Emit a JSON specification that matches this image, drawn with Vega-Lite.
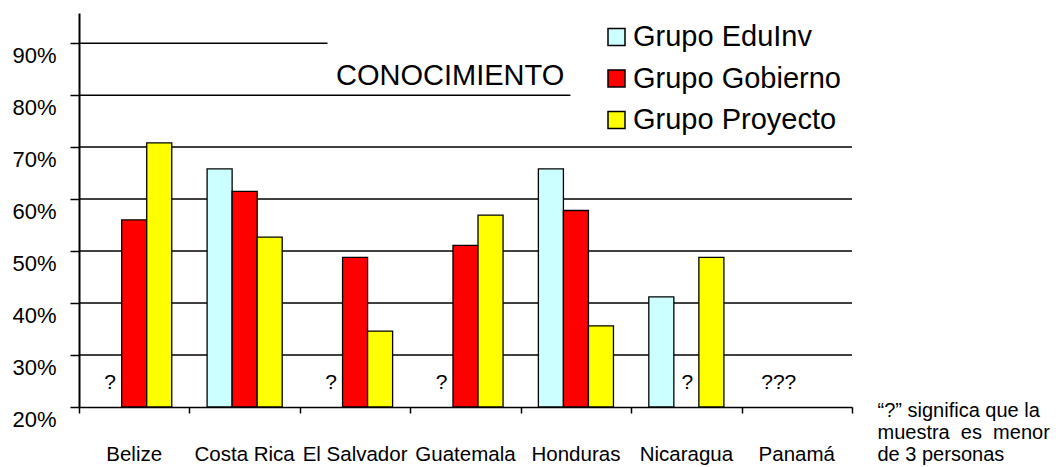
{
  "$schema": "https://vega.github.io/schema/vega-lite/v6.json",
  "width": 773,
  "height": 394,
  "autosize": {"type": "none"},
  "padding": {"left": 79, "top": 13, "right": 211, "bottom": 60},
  "background": "white",
  "config": {
    "view": {"stroke": null},
    "font": "Liberation Sans",
    "axisY": {"grid": false, "tickSize": 9, "tickColor": "black", "tickWidth": 1.5, "domainColor": "black", "domainWidth": 2, "labelFontSize": 22, "labelColor": "black", "labelPadding": 14, "labelOffset": 12, "labelBaseline": "middle"}
  },
  "title": {"text": "CONOCIMIENTO", "orient": "top", "anchor": "start", "frame": "group", "dx": 257, "dy": 101, "offset": 0, "baseline": "alphabetic", "fontSize": 29, "fontWeight": "normal", "color": "black"},
  "datasets": {
    "bars": [
      {"pais": "Belize", "grupo": "Grupo Gobierno", "valor": 56.0},
      {"pais": "Belize", "grupo": "Grupo Proyecto", "valor": 70.8},
      {"pais": "Costa Rica", "grupo": "Grupo EduInv", "valor": 65.8},
      {"pais": "Costa Rica", "grupo": "Grupo Gobierno", "valor": 61.5},
      {"pais": "Costa Rica", "grupo": "Grupo Proyecto", "valor": 52.7},
      {"pais": "El Salvador", "grupo": "Grupo Gobierno", "valor": 48.8},
      {"pais": "El Salvador", "grupo": "Grupo Proyecto", "valor": 34.6},
      {"pais": "Guatemala", "grupo": "Grupo Gobierno", "valor": 51.1},
      {"pais": "Guatemala", "grupo": "Grupo Proyecto", "valor": 56.9},
      {"pais": "Honduras", "grupo": "Grupo EduInv", "valor": 65.8},
      {"pais": "Honduras", "grupo": "Grupo Gobierno", "valor": 57.8},
      {"pais": "Honduras", "grupo": "Grupo Proyecto", "valor": 35.6},
      {"pais": "Nicaragua", "grupo": "Grupo EduInv", "valor": 41.2},
      {"pais": "Nicaragua", "grupo": "Grupo Proyecto", "valor": 48.8}
    ],
    "grid": [
      {"pct": 90, "desde": 0, "hasta": 2.25},
      {"pct": 80, "desde": 0, "hasta": 4.45},
      {"pct": 70, "desde": 0, "hasta": 7},
      {"pct": 60, "desde": 0, "hasta": 7},
      {"pct": 50, "desde": 0, "hasta": 7},
      {"pct": 40, "desde": 0, "hasta": 7},
      {"pct": 30, "desde": 0, "hasta": 7}
    ],
    "marcas": [
      {"pais": "Belize", "grupo": "Grupo EduInv", "texto": "?"},
      {"pais": "El Salvador", "grupo": "Grupo EduInv", "texto": "?"},
      {"pais": "Guatemala", "grupo": "Grupo EduInv", "texto": "?"},
      {"pais": "Nicaragua", "grupo": "Grupo Gobierno", "texto": "?"}
    ],
    "panama": [
      {"pais": "Panamá", "grupo": "Grupo EduInv", "texto": "???"}
    ]
  },
  "layer": [
    {
      "data": {"name": "grid"},
      "mark": {"type": "rule", "color": "black", "strokeWidth": 1.5},
      "encoding": {
        "x": {"field": "desde", "type": "quantitative", "scale": {"domain": [0, 7], "nice": false, "zero": false},
          "axis": {"orient": "bottom", "values": [0, 1, 2, 3, 4, 5, 6, 7], "labels": false, "grid": false, "ticks": true, "tickSize": 6, "tickColor": "black", "tickWidth": 1.5, "domain": true, "domainColor": "black", "domainWidth": 1.5,
            "title": ["“?” significa que la", "muestra\u00a0\u00a0es\u00a0\u00a0menor", "de 3 personas"],
            "titleX": 798, "titleY": 9, "titleAlign": "left", "titleBaseline": "alphabetic", "titleFontSize": 20, "titleFontWeight": "normal", "titleColor": "black", "titleLineHeight": 22}},
        "x2": {"field": "hasta"},
        "y": {"field": "pct", "type": "quantitative", "scale": {"domain": [20, 95.8], "nice": false, "zero": false},
          "axis": {"values": [20, 30, 40, 50, 60, 70, 80, 90], "labelExpr": "datum.value + '%'", "title": null}}
      }
    },
    {
      "encoding": {
        "x": {"field": "pais", "type": "nominal",
          "scale": {"domain": ["Belize", "Costa Rica", "El Salvador", "Guatemala", "Honduras", "Nicaragua", "Panamá"], "paddingInner": 0.32, "paddingOuter": 0.16},
          "axis": {"orient": "bottom", "ticks": false, "tickSize": 0, "domain": false, "labelAngle": 0, "labelFontSize": 20.5, "labelColor": "black", "labelPadding": 37, "title": null}},
        "xOffset": {"field": "grupo", "type": "nominal", "scale": {"domain": ["Grupo EduInv", "Grupo Gobierno", "Grupo Proyecto"]}}
      },
      "layer": [
        {
          "data": {"name": "bars"},
          "mark": {"type": "bar", "stroke": "black", "strokeWidth": 1.3},
          "encoding": {
            "y": {"field": "valor", "type": "quantitative", "title": null},
            "y2": {"datum": 20},
            "fill": {"field": "grupo", "type": "nominal",
              "scale": {"domain": ["Grupo EduInv", "Grupo Gobierno", "Grupo Proyecto"], "range": ["#CCFFFF", "#FF0000", "#FFFF00"]},
              "legend": {"orient": "none", "legendX": 523, "legendY": 9.5, "title": null, "symbolType": "square", "symbolSize": 289, "symbolStrokeColor": "black", "symbolStrokeWidth": 1.5, "symbolOpacity": 1, "labelFontSize": 29, "labelColor": "black", "labelOffset": 2, "labelLimit": 400, "rowPadding": 11.5, "padding": 0}}
          }
        },
        {
          "data": {"name": "marcas"},
          "mark": {"type": "text", "fontSize": 21, "color": "black", "baseline": "middle", "dx": 1},
          "encoding": {
            "y": {"datum": 24.6},
            "text": {"field": "texto"}
          }
        },
        {
          "data": {"name": "panama"},
          "mark": {"type": "text", "fontSize": 21, "color": "black", "baseline": "middle", "dx": 7},
          "encoding": {
            "y": {"datum": 24.6},
            "text": {"field": "texto"}
          }
        }
      ]
    }
  ],
  "resolve": {"scale": {"x": "independent"}, "axis": {"x": "independent"}}
}
